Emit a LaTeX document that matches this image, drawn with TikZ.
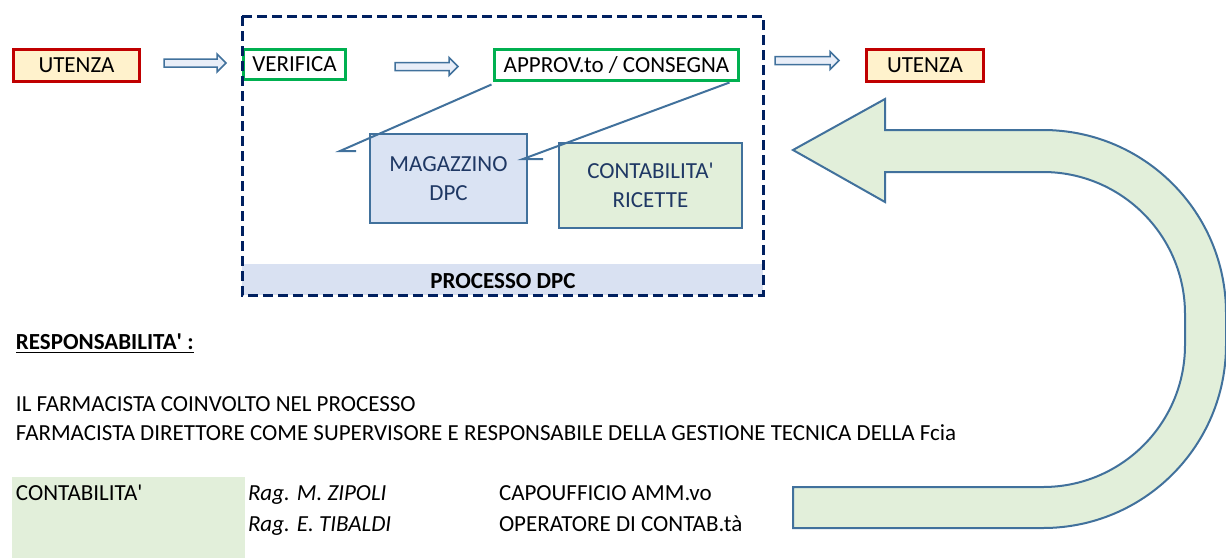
\documentclass[tikz,border=0pt]{standalone}
\usepackage{fontspec}
\setmainfont{Carlito}
\definecolor{redb}{HTML}{C00000}
\definecolor{yelf}{HTML}{FFF2CC}
\definecolor{greenb}{HTML}{00B050}
\definecolor{navy}{HTML}{002060}
\definecolor{steel}{HTML}{41719C}
\definecolor{bluef}{HTML}{DAE3F3}
\definecolor{greenf}{HTML}{E2EFDA}
\definecolor{bandf}{HTML}{D9E1F2}
\definecolor{dtext}{HTML}{1F3864}
\newcommand{\apos}{\textquotesingle}
\begin{document}
\begin{tikzpicture}[x=1pt,y=-1pt,
  every node/.style={font=\fontsize{23}{27}\selectfont, inner sep=0pt, outer sep=0pt},
  utbox/.style={draw=redb, fill=yelf, line width=3pt},
  grbox/.style={draw=greenb, fill=white, line width=3pt},
  shbox/.style={draw=steel, line width=2pt, text=dtext, align=center},
  conn/.style={draw=steel, line width=2pt},
  barrow/.style={draw=steel, fill=bluef!60, line width=1.5pt},
  txt/.style={anchor=base west}]
\useasboundingbox (0,0) rectangle (1226,558);
% process band
\fill[bandf] (242,264) rectangle (763,295);
\node[font=\fontsize{23}{27}\selectfont\bfseries] (proc) at (503,281) {PROCESSO DPC};
% top boxes
\node[utbox, minimum width=126pt, minimum height=32pt] (ut1) at (76.5,65.5) {UTENZA};
\node[grbox, minimum width=102pt, minimum height=30pt] (ver) at (294.5,64.5) {VERIFICA};
\node[grbox, minimum width=244pt, minimum height=31pt] (app) at (616.5,65) {APPROV.to / CONSEGNA};
\node[utbox, minimum width=117pt, minimum height=32pt] (ut2) at (925,65.5) {UTENZA};
\node[shbox, fill=bluef, minimum width=157pt, minimum height=89pt] (mag) at (448.5,178.5) {MAGAZZINO\\[2pt]DPC};
\node[shbox, fill=greenf, minimum width=183pt, minimum height=85pt] (cont) at (650.5,185.5) {CONTABILITA\apos\\[2pt]RICETTE};
% block arrows
\newcommand{\blockarr}[4]{% x0, x1 (tip), y center, head start
  \draw[barrow] (#1,#3-4) -- (#4,#3-4) -- (#4,#3-9) -- (#2,#3) -- (#4,#3+9) -- (#4,#3+4) -- (#1,#3+4) -- cycle;}
\blockarr{164}{226}{63}{217}
\blockarr{395}{458}{66.5}{449}
\blockarr{775}{839}{60.5}{830}
% connectors
\coordinate (c1) at (340,151);
\coordinate (b1) at (356,151);
\coordinate (c2) at (523,159);
\coordinate (b2) at (543,159);
\draw[conn] ([xshift=-3pt,yshift=-4pt]app.south west) -- (c1) -- (b1);
\draw[conn] ([xshift=-9pt,yshift=-2pt]app.south east) -- (c2) -- (b2);
% dashed process border
\draw[navy, line width=3pt, dash pattern=on 10pt off 5pt] (242,16) rectangle (763,295);
% U-turn arrow
\draw[draw=steel, fill=greenf, line width=2pt]
  (793,150) -- (885,99) -- (885,130) -- (1043,130)
  arc[start angle=-90, end angle=0, radius=183] -- (1226,345)
  arc[start angle=0, end angle=90, radius=183] -- (793,528) -- (793,487) -- (1043,487)
  arc[start angle=90, end angle=0, radius=142] -- (1185,314)
  arc[start angle=0, end angle=-90, radius=142] -- (885,172) -- (885,202) -- cycle;
% bottom section
\node[txt, font=\fontsize{23}{27}\selectfont\bfseries] (resp) at (16,349) {RESPONSABILITA\apos{} :};
\draw[line width=1.3pt] ([yshift=-3.5pt]resp.base west) -- ([yshift=-3.5pt]resp.base east);
\node[txt] (l1) at (16,411) {IL FARMACISTA COINVOLTO NEL PROCESSO};
\node[txt] (l2) at (16,440) {FARMACISTA DIRETTORE COME SUPERVISORE E RESPONSABILE DELLA GESTIONE TECNICA DELLA Fcia};
\fill[greenf] (12,477) rectangle (245,558);
\node[txt] (cn) at (16,500) {CONTABILITA\apos};
\node[txt, font=\fontsize{23}{27}\selectfont\itshape] (r1) at (248,500) {Rag. M. ZIPOLI};
\node[txt, font=\fontsize{23}{27}\selectfont\itshape] (r2) at (248,531) {Rag. E. TIBALDI};
\node[txt] (p1) at (499,500) {CAPOUFFICIO AMM.vo};
\node[txt] (p2) at (499,531) {OPERATORE DI CONTAB.tà};
\end{tikzpicture}
\end{document}
